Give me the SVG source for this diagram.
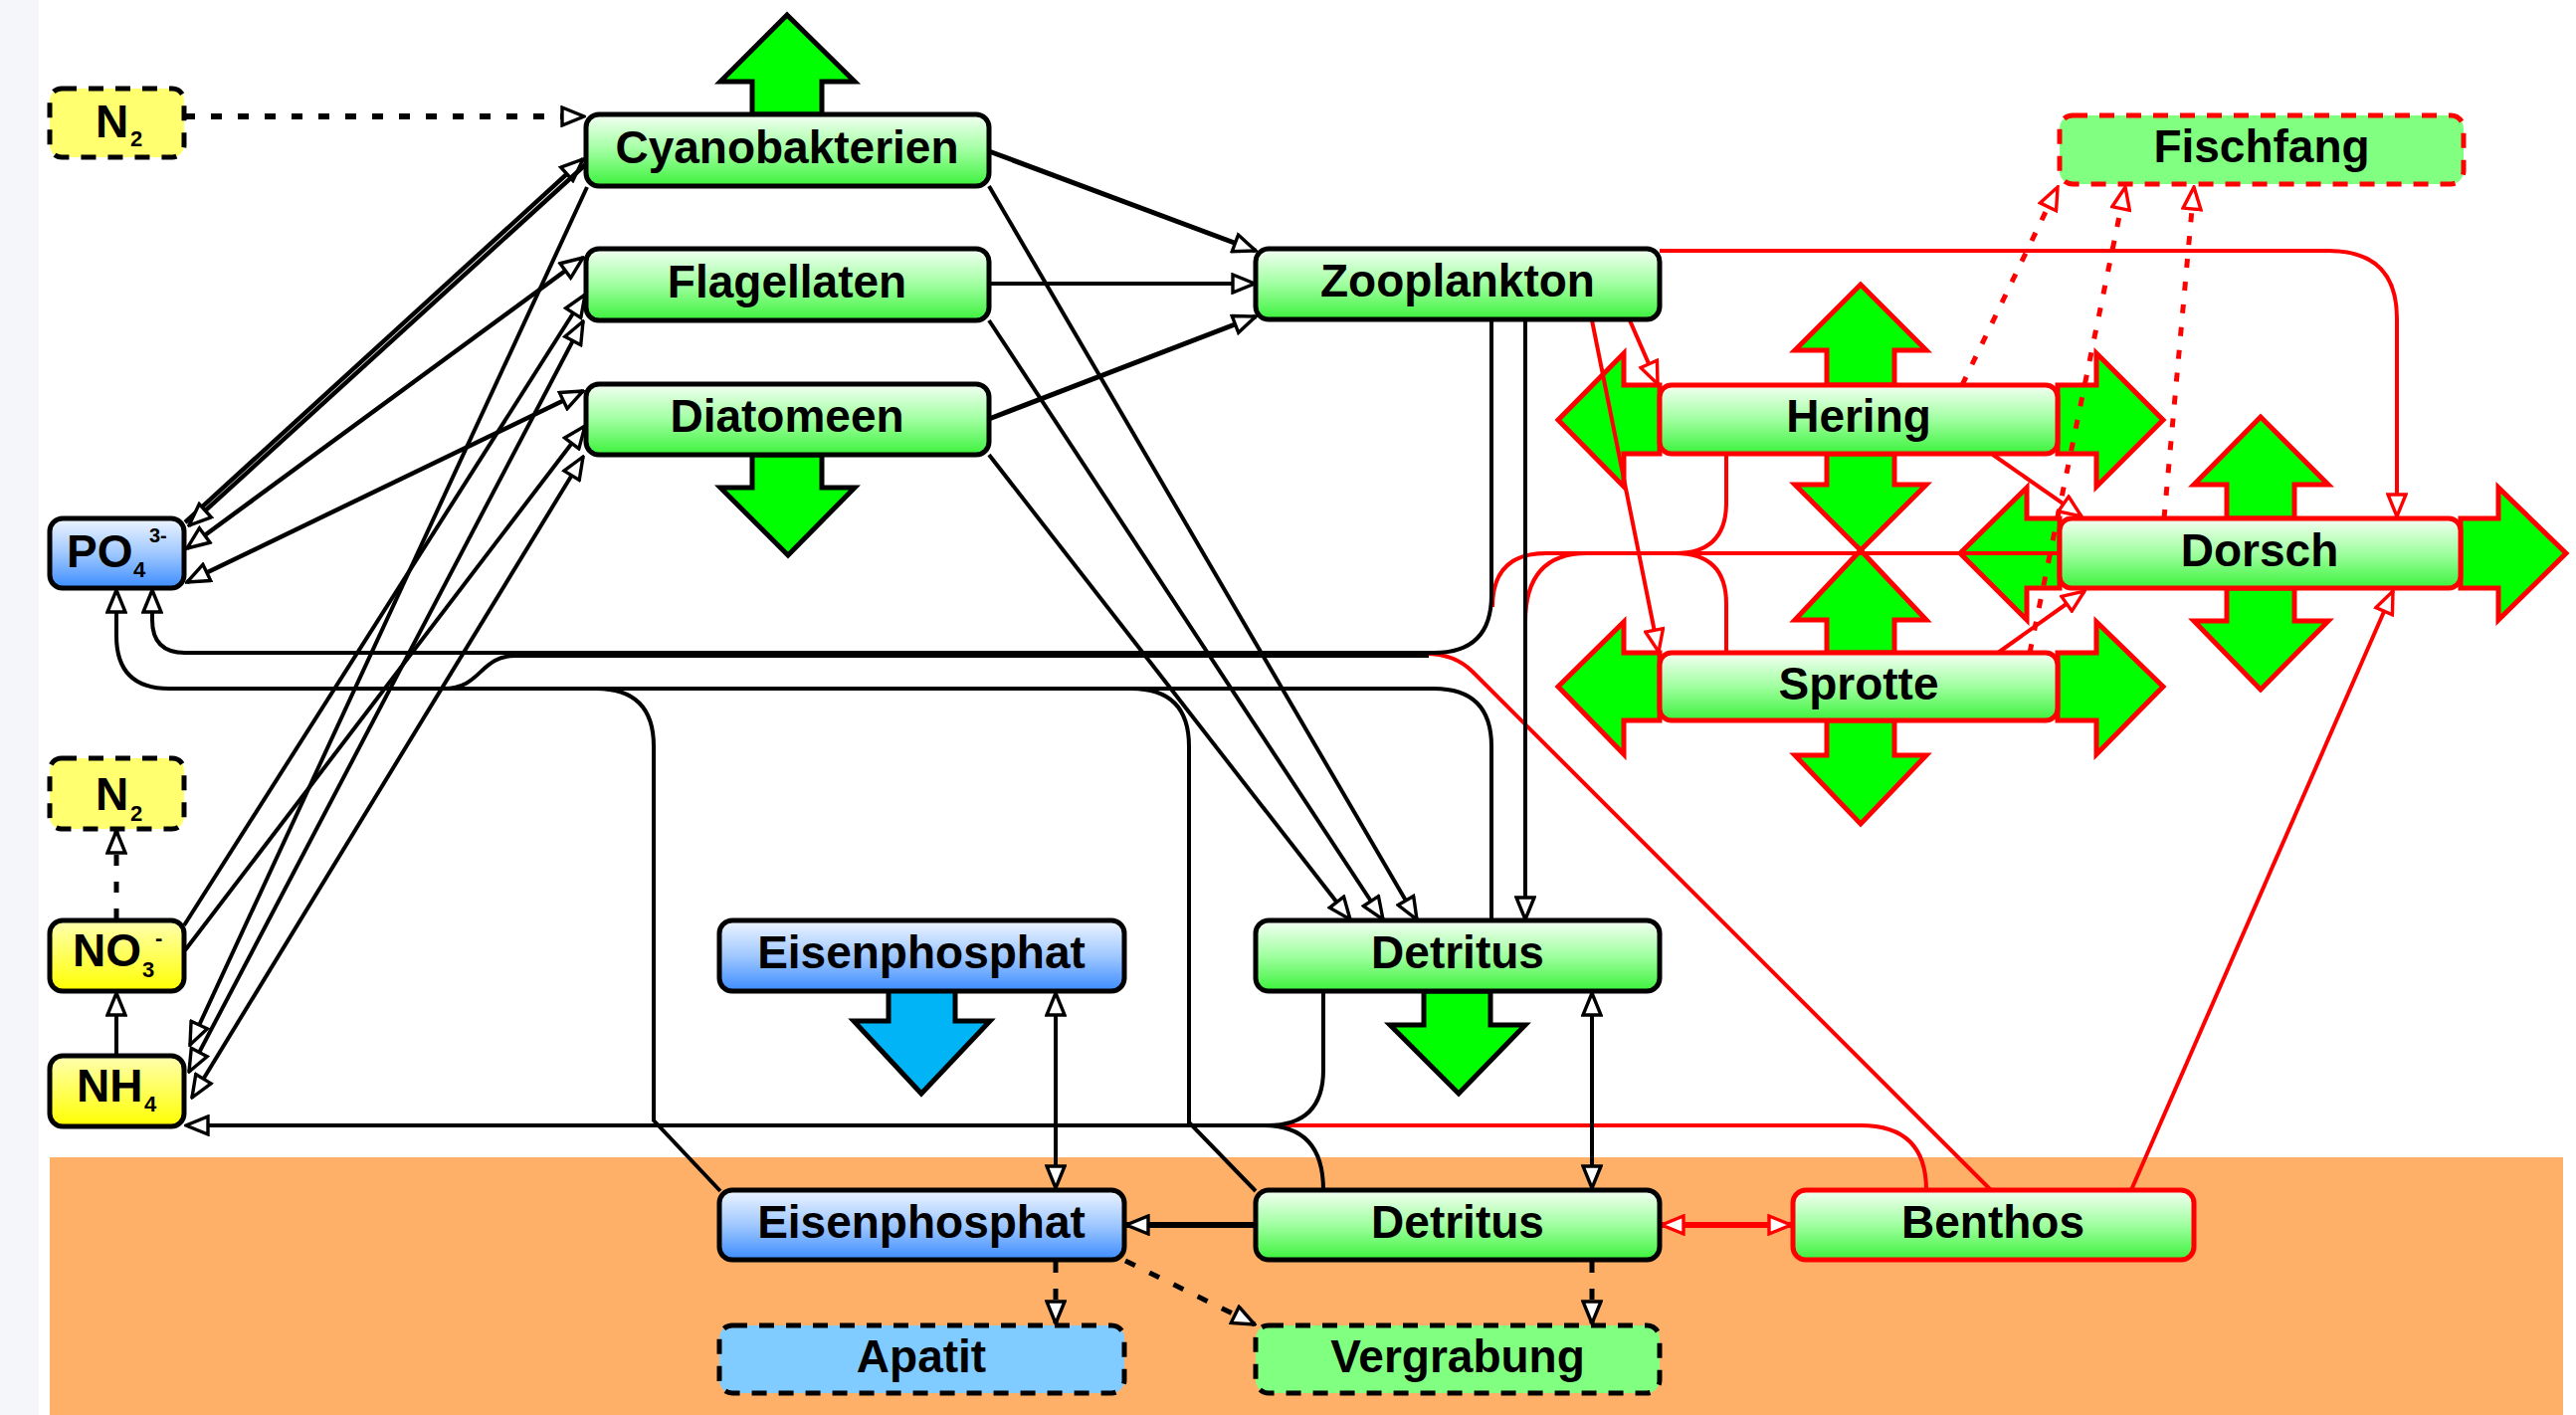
<svg xmlns="http://www.w3.org/2000/svg" width="2589" height="1422" viewBox="0 0 2589 1422">
<defs>
<linearGradient id="gG" x1="0" y1="0" x2="0" y2="1"><stop offset="0" stop-color="#F4FFF4"/><stop offset="0.5" stop-color="#A0FFA0"/><stop offset="1" stop-color="#3CF23C"/></linearGradient>
<linearGradient id="gB" x1="0" y1="0" x2="0" y2="1"><stop offset="0" stop-color="#EEF5FF"/><stop offset="0.5" stop-color="#A0C8FF"/><stop offset="1" stop-color="#3C8CFF"/></linearGradient>
<linearGradient id="gY" x1="0" y1="0" x2="0" y2="1"><stop offset="0" stop-color="#FFFFB0"/><stop offset="1" stop-color="#FFFF00"/></linearGradient>
<marker id="ab" viewBox="0 0 26 22" refX="24" refY="11" markerWidth="26" markerHeight="22" markerUnits="userSpaceOnUse" orient="auto-start-reverse"><path d="M2,2 L24,11 L2,20 Z" fill="#fff" stroke="#000" stroke-width="3.4"/></marker>
<marker id="ar" viewBox="0 0 26 22" refX="24" refY="11" markerWidth="26" markerHeight="22" markerUnits="userSpaceOnUse" orient="auto-start-reverse"><path d="M2,2 L24,11 L2,20 Z" fill="#fff" stroke="#f00" stroke-width="3.4"/></marker>
<style>
.t{font-family:"Liberation Sans",Arial,sans-serif;font-weight:bold;font-size:46px;text-anchor:middle;fill:#000}
.s{font-family:"Liberation Sans",Arial,sans-serif;font-weight:bold;fill:#000}
.nb{stroke:#000;stroke-width:5}
.nr{stroke:#f00;stroke-width:5}
.dsh{stroke-dasharray:15 12}
.ga{fill:#00FF00;stroke:#000;stroke-width:5;stroke-linejoin:miter}
.gr{fill:#00FF00;stroke:#f00;stroke-width:5;stroke-linejoin:miter}
.ba{fill:#00B4F5;stroke:#000;stroke-width:5}
.k{fill:none;stroke:#000;stroke-width:4}
.r{fill:none;stroke:#f00;stroke-width:4}
.dk{stroke-dasharray:11 16;stroke-width:6}
.dr{stroke-dasharray:9 14;stroke-width:5}
.ek{marker-end:url(#ab)}
.bk{marker-start:url(#ab);marker-end:url(#ab)}
.er{marker-end:url(#ar)}
.brr{marker-start:url(#ar);marker-end:url(#ar)}
</style>
</defs>
<rect width="2589" height="1422" fill="#fff"/>
<rect x="0" y="0" width="39" height="1422" fill="#F4F6F9"/>
<rect x="50" y="1163" width="2526" height="259" fill="#FEB068"/>

<g id="block-arrows">
<polygon class="ga" points="756,115 756,82 724,82 791,15 859,82 826,82 826,115"/>
<polygon class="ga" points="756,457 756,490 724,490 792,558 859,490 826,490 826,457"/>
<polygon class="ba" points="893,995 893,1026 858,1026 926,1099 995,1026 960,1026 960,995"/>
<polygon class="ga" points="1431,996 1431,1030 1397,1030 1466,1099 1533,1030 1498,1030 1498,996"/>
<polygon class="gr" points="1836,387 1836,352 1804,352 1870,286 1936,352 1904,352 1904,387"/>
<polygon class="gr" points="1836,456 1836,487 1804,487 1870,553 1936,487 1904,487 1904,456"/>
<polygon class="gr" points="1668,387 1632,387 1632,355 1566,422 1632,489 1632,456 1668,456"/>
<polygon class="gr" points="2068,387 2107,387 2107,355 2174,422 2107,489 2107,456 2068,456"/>
<polygon class="gr" points="1836,656 1836,623 1804,623 1870,553 1936,623 1904,623 1904,656"/>
<polygon class="gr" points="1836,724 1836,759 1804,759 1870,828 1936,759 1904,759 1904,724"/>
<polygon class="gr" points="1668,656 1632,656 1632,625 1566,690 1632,758 1632,724 1668,724"/>
<polygon class="gr" points="2068,656 2107,656 2107,625 2174,690 2107,758 2107,724 2068,724"/>
<polygon class="gr" points="2238,521 2238,487 2205,487 2272,419 2340,487 2306,487 2306,521"/>
<polygon class="gr" points="2238,591 2238,624 2205,624 2272,693 2340,624 2306,624 2306,591"/>
<polygon class="gr" points="2070,521 2037,521 2037,490 1970,556 2037,623 2037,591 2070,591"/>
<polygon class="gr" points="2473,521 2511,521 2511,490 2579,556 2511,623 2511,591 2473,591"/>
</g>

<g id="connectors">
<path class="r er" d="M1668,252 L2340,252 Q2409,252 2409,320 L2409,519"/>
<path class="r er" d="M1638,322 L1666,386"/>
<path class="r er" d="M1600,322 L1667,655"/>
<path class="r er" d="M2003,457 L2092,519"/>
<path class="r er" d="M2008,656 L2095,594"/>
<path class="r dr er" d="M1972,387 L2068,188"/>
<path class="r dr er" d="M2040,656 L2136,188"/>
<path class="r dr er" d="M2175,521 L2205,188"/>
<path class="r er" d="M2142,1196 L2405,594"/>
<path class="r brr" style="stroke-width:6" d="M1670,1231 L1800,1231"/>
<path class="r" d="M1936,1196 Q1936,1131 1870,1131 L1263,1131"/>
<path class="r" d="M2001,1196 L1480,675 Q1462,657 1433,657"/>
<path class="r" d="M2070,556 L1554,556 Q1500,556 1500,610"/>
<path class="r" d="M2070,556 L1595,556 Q1533,556 1533,625"/>
<path class="r" d="M1735,457 L1735,505 Q1735,556 1684,556"/>
<path class="r" d="M1735,657 L1735,607 Q1735,556 1684,556"/>
<path class="k dk ek" d="M185,117 L587,117"/>
<path class="k ek" style="stroke-width:4.5" d="M186,525 L586,160"/>
<path class="k ek" style="stroke-width:4.5" d="M590,164 L190,528"/>
<path class="k bk" style="stroke-width:4.5" d="M188,551 L586,259"/>
<path class="k bk" style="stroke-width:4.5" d="M188,585 L586,393"/>
<path class="k ek" d="M185,930 L588,296"/>
<path class="k ek" d="M186,955 L588,428"/>
<path class="k bk" d="M190,1077 L586,323"/>
<path class="k bk" d="M193,1103 L586,459"/>
<path class="k ek" d="M590,188 L191,1050"/>
<path class="k ek" style="stroke-width:5" d="M994,152 L1262,252"/>
<path class="k ek" d="M994,285 L1261,285"/>
<path class="k ek" style="stroke-width:5" d="M994,421 L1262,318"/>
<path class="k ek" d="M994,187 L1424,924"/>
<path class="k ek" d="M994,322 L1390,924"/>
<path class="k ek" d="M994,457 L1357,924"/>
<path class="k ek" d="M1533,321 L1533,924"/>
<path class="k ek" d="M1499,321 L1499,598 Q1499,656 1441,656 L186,656 Q153,656 153,623 L153,593"/>
<path class="k" d="M1436,659 L518,659 C482,659 484,692 446,692"/>
<path class="k ek" d="M1499,925 L1499,750 Q1499,692 1441,692 L170,692 Q117,692 117,639 L117,593"/>
<path class="k" d="M1262,1197 L1195,1128 L1195,750 Q1195,692 1137,692"/>
<path class="k" d="M724,1197 L657,1126 L657,750 Q657,692 599,692"/>
<path class="k ek" d="M1330,996 L1330,1075 Q1330,1131 1274,1131 L187,1131"/>
<path class="k" d="M1330,1196 Q1330,1131 1270,1131"/>
<path class="k bk" d="M1061,998 L1061,1194"/>
<path class="k bk" d="M1600,998 L1600,1194"/>
<path class="k ek" style="stroke-width:6" d="M1262,1231 L1132,1231"/>
<path class="k dk ek" style="stroke-width:5" d="M1061,1268 L1061,1330"/>
<path class="k dk ek" style="stroke-width:5" d="M1131,1267 L1261,1331"/>
<path class="k dk ek" style="stroke-width:5" d="M1600,1268 L1600,1330"/>
<path class="k ek" d="M117,1061 L117,998"/>
<path class="k dk ek" style="stroke-width:5" d="M117,924 L117,835"/>
</g>

<g id="n-n2-top"><rect x="50" y="89" width="135" height="69" rx="12" fill="#FFFF70" class="nb dsh"/><text class="s" x="96" y="138" font-size="46">N<tspan x="131" y="147" font-size="22">2</tspan></text></g>
<g id="n-cyanobakterien"><rect x="589" y="115" width="405" height="72" rx="13" fill="url(#gG)" class="nb"/><text class="t" x="791" y="164">Cyanobakterien</text></g>
<g id="n-flagellaten"><rect x="589" y="250" width="405" height="72" rx="13" fill="url(#gG)" class="nb"/><text class="t" x="791" y="299">Flagellaten</text></g>
<g id="n-diatomeen"><rect x="589" y="386" width="405" height="71" rx="13" fill="url(#gG)" class="nb"/><text class="t" x="791" y="434">Diatomeen</text></g>
<g id="n-zooplankton"><rect x="1262" y="250" width="406" height="71" rx="13" fill="url(#gG)" class="nb"/><text class="t" x="1465" y="298">Zooplankton</text></g>
<g id="n-fischfang"><rect x="2070" y="116" width="406" height="69" rx="13" fill="#80FF80" class="nr dsh"/><text class="t" x="2273" y="163">Fischfang</text></g>
<g id="n-hering"><rect x="1668" y="387" width="400" height="69" rx="12" fill="url(#gG)" class="nr"/><text class="t" x="1868" y="434">Hering</text></g>
<g id="n-dorsch"><rect x="2070" y="521" width="403" height="70" rx="12" fill="url(#gG)" class="nr"/><text class="t" x="2271" y="569">Dorsch</text></g>
<g id="n-sprotte"><rect x="1668" y="656" width="400" height="68" rx="12" fill="url(#gG)" class="nr"/><text class="t" x="1868" y="703">Sprotte</text></g>
<g id="n-po4"><rect x="50" y="521" width="135" height="70" rx="13" fill="url(#gB)" class="nb"/><text class="s" x="67" y="570" font-size="46">PO<tspan x="134" y="580" font-size="22">4</tspan><tspan x="150" y="545" font-size="20">3-</tspan></text></g>
<g id="n-n2-mid"><rect x="50" y="762" width="135" height="71" rx="12" fill="#FFFF70" class="nb dsh"/><text class="s" x="96" y="814" font-size="46">N<tspan x="131" y="825" font-size="22">2</tspan></text></g>
<g id="n-no3"><rect x="50" y="925" width="135" height="71" rx="13" fill="url(#gY)" class="nb"/><text class="s" x="73" y="971" font-size="46">NO<tspan x="143" y="982" font-size="22">3</tspan><tspan x="156" y="950" font-size="22">-</tspan></text></g>
<g id="n-nh4"><rect x="50" y="1061" width="135" height="71" rx="13" fill="url(#gY)" class="nb"/><text class="s" x="77" y="1107" font-size="46">NH<tspan x="145" y="1117" font-size="22">4</tspan></text></g>
<g id="n-eisenphosphat-top"><rect x="723" y="925" width="407" height="71" rx="13" fill="url(#gB)" class="nb"/><text class="t" x="926" y="973">Eisenphosphat</text></g>
<g id="n-detritus-top"><rect x="1262" y="925" width="406" height="71" rx="13" fill="url(#gG)" class="nb"/><text class="t" x="1465" y="973">Detritus</text></g>
<g id="n-eisenphosphat-bottom"><rect x="723" y="1196" width="407" height="70" rx="13" fill="url(#gB)" class="nb"/><text class="t" x="926" y="1244">Eisenphosphat</text></g>
<g id="n-detritus-bottom"><rect x="1262" y="1196" width="406" height="70" rx="13" fill="url(#gG)" class="nb"/><text class="t" x="1465" y="1244">Detritus</text></g>
<g id="n-benthos"><rect x="1802" y="1196" width="403" height="70" rx="13" fill="url(#gG)" class="nr"/><text class="t" x="2003" y="1244">Benthos</text></g>
<g id="n-apatit"><rect x="723" y="1332" width="407" height="68" rx="13" fill="#80CBFF" class="nb dsh"/><text class="t" x="926" y="1379">Apatit</text></g>
<g id="n-vergrabung"><rect x="1262" y="1332" width="406" height="68" rx="13" fill="#80FF80" class="nb dsh"/><text class="t" x="1465" y="1379">Vergrabung</text></g>
</svg>
